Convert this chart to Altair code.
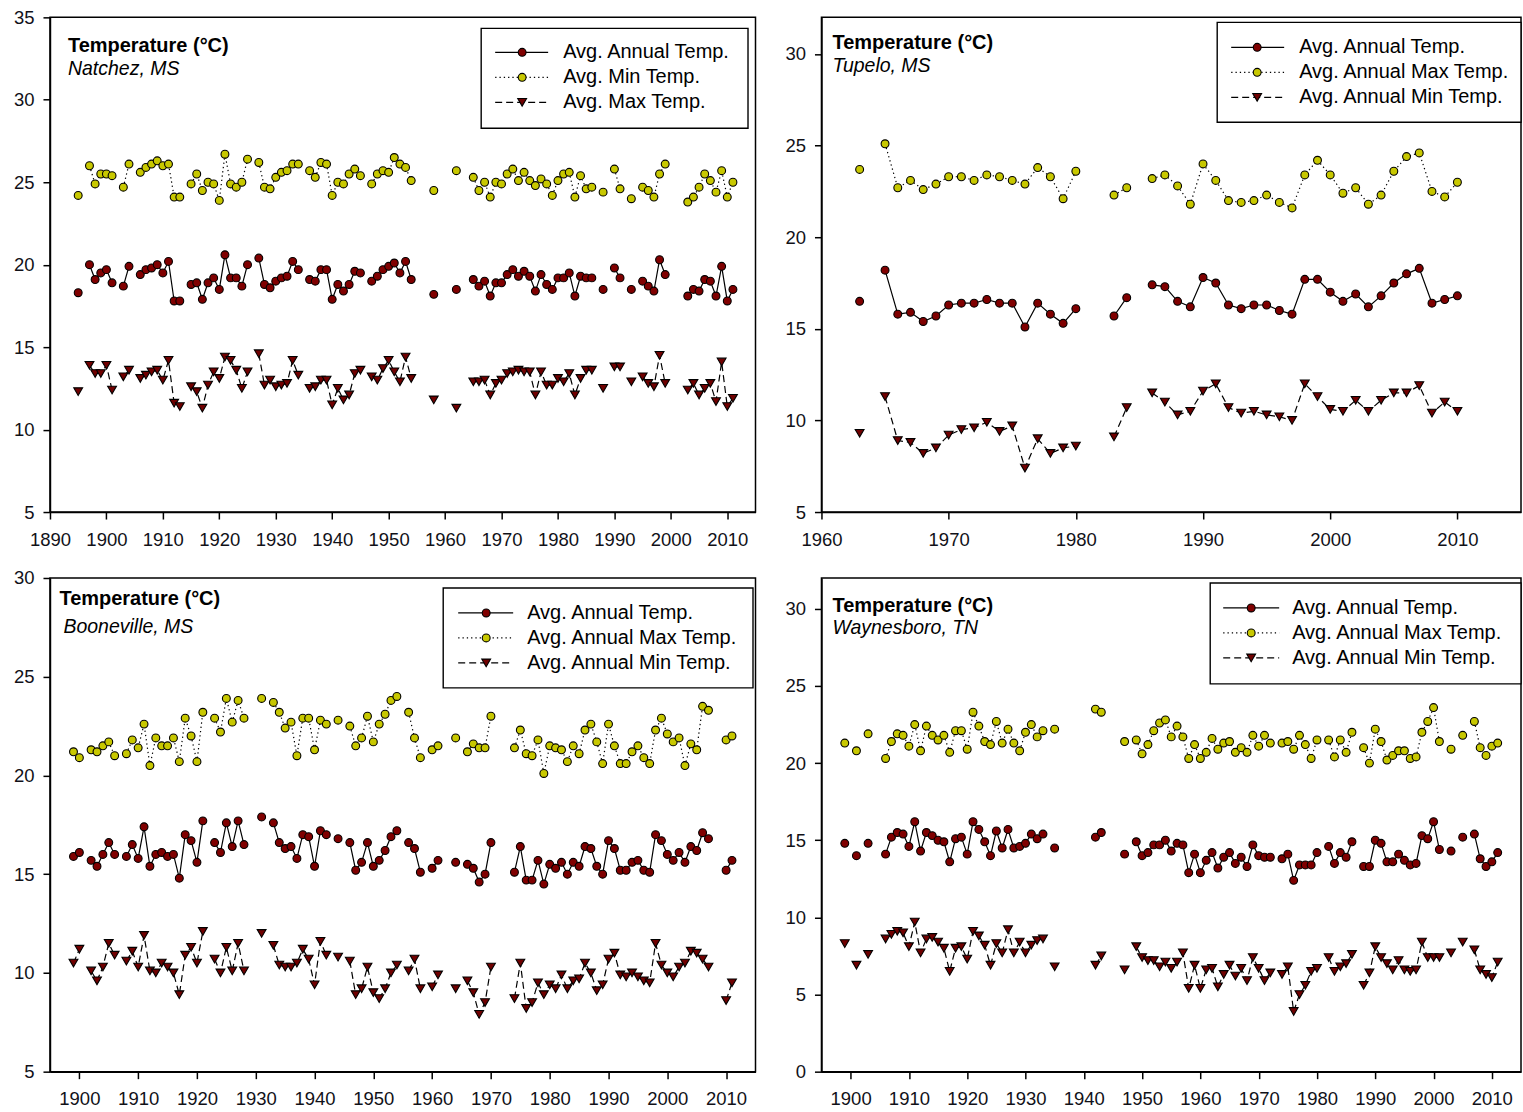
import altair as alt
import pandas as pd

# ---------------- station records, annual temperatures in degrees C ----------------
natchez_years = [1895, 1897, 1898, 1899, 1900, 1901, 1903, 1904,
                 1906, 1907, 1908, 1909, 1910, 1911, 1912, 1913,
                 1915, 1916, 1917, 1918, 1919, 1920, 1921, 1922, 1923, 1924, 1925,
                 1927, 1928, 1929, 1930, 1931, 1932, 1933, 1934,
                 1936, 1937, 1938, 1939, 1940, 1941, 1942, 1943, 1944, 1945,
                 1947, 1948, 1949, 1950, 1951, 1952, 1953, 1954,
                 1958, 1962,
                 1965, 1966, 1967, 1968, 1969, 1970, 1971, 1972, 1973, 1974, 1975,
                 1976, 1977, 1978, 1979, 1980, 1981, 1982, 1983, 1984, 1985, 1986,
                 1988, 1990, 1991, 1993,
                 1995, 1996, 1997, 1998, 1999,
                 2003, 2004, 2005, 2006, 2007, 2008, 2009, 2010, 2011]
natchez_avg = [18.3, 20.0, 19.1, 19.5, 19.7, 18.9, 18.7, 19.9,
               19.4, 19.7, 19.8, 20.0, 19.5, 20.2, 17.8, 17.8,
               18.8, 18.9, 17.9, 18.9, 19.2, 18.5, 20.6, 19.2, 19.2, 18.7, 20.0,
               20.4, 18.8, 18.6, 19.0, 19.2, 19.3, 20.2, 19.7,
               19.1, 19.0, 19.7, 19.7, 17.9, 18.8, 18.4, 18.8, 19.6, 19.5,
               19.0, 19.3, 19.7, 19.9, 20.1, 19.5, 20.2, 19.1,
               18.2, 18.5,
               19.1, 18.7, 19.0, 18.1, 18.9, 18.9, 19.4, 19.7, 19.3, 19.6, 19.3,
               18.4, 19.4, 18.8, 18.5, 19.2, 19.2, 19.5, 18.1, 19.3, 19.2, 19.2,
               18.5, 19.8, 19.2, 18.5,
               19.0, 18.7, 18.4, 20.3, 19.4,
               18.1, 18.5, 18.4, 19.1, 19.0, 18.1, 19.9, 17.8, 18.5]
natchez_max = [24.2, 26.0, 24.9, 25.5, 25.5, 25.4, 24.7, 26.1,
               25.6, 25.9, 26.1, 26.3, 26.0, 26.1, 24.1, 24.1,
               24.9, 25.5, 24.5, 25.0, 24.9, 23.9, 26.7, 24.9, 24.7, 25.0, 26.4,
               26.2, 24.7, 24.6, 25.3, 25.6, 25.7, 26.1, 26.1,
               25.7, 25.3, 26.2, 26.1, 24.2, 25.0, 24.9, 25.5, 25.8, 25.4,
               24.9, 25.5, 25.7, 25.6, 26.5, 26.1, 25.9, 25.1,
               24.5, 25.7,
               25.3, 24.5, 25.0, 24.1, 25.0, 24.9, 25.5, 25.8, 25.1, 25.6, 25.1,
               24.8, 25.2, 24.9, 24.2, 25.1, 25.5, 25.6, 24.1, 25.4, 24.6, 24.7,
               24.4, 25.8, 24.6, 24.0,
               24.7, 24.5, 24.1, 25.5, 26.1,
               23.8, 24.1, 24.7, 25.5, 25.1, 24.4, 25.7, 24.1, 25.0]
natchez_min = [12.3, 13.9, 13.4, 13.4, 13.9, 12.4, 13.2, 13.6,
               13.1, 13.3, 13.5, 13.6, 13.0, 14.2, 11.6, 11.4,
               12.6, 12.3, 11.3, 12.7, 13.5, 13.1, 14.4, 14.2, 13.6, 12.5, 13.5,
               14.6, 12.7, 13.0, 12.6, 12.7, 12.8, 14.2, 13.3,
               12.5, 12.6, 13.0, 13.0, 11.5, 12.5, 11.8, 12.1, 13.4, 13.6,
               13.2, 13.0, 13.7, 14.2, 13.5, 12.9, 14.4, 13.1,
               11.8, 11.3,
               12.9, 12.9, 13.0, 12.1, 12.8, 13.0, 13.4, 13.5, 13.6, 13.5, 13.5,
               12.1, 13.5, 12.7, 12.7, 13.1, 12.9, 13.4, 12.1, 13.1, 13.6, 13.6,
               12.5, 13.8, 13.8, 12.9,
               13.2, 12.8, 12.6, 14.5, 12.8,
               12.4, 12.8, 12.1, 12.5, 12.8, 11.7, 14.1, 11.4, 11.9]

tupelo_years = [1963,
                1965, 1966, 1967, 1968, 1969, 1970, 1971, 1972,
                1973, 1974, 1975, 1976, 1977, 1978, 1979, 1980,
                1983, 1984,
                1986, 1987, 1988, 1989, 1990, 1991, 1992, 1993, 1994, 1995, 1996, 1997,
                1998, 1999, 2000, 2001, 2002, 2003, 2004, 2005, 2006, 2007, 2008, 2009, 2010]
tupelo_avg = [16.5,
              18.2, 15.8, 15.9, 15.4, 15.7, 16.3, 16.4, 16.4,
              16.6, 16.4, 16.4, 15.1, 16.4, 15.8, 15.3, 16.1,
              15.7, 16.7,
              17.4, 17.3, 16.5, 16.2, 17.8, 17.5, 16.3, 16.1, 16.3, 16.3, 16.0, 15.8,
              17.7, 17.7, 17.0, 16.5, 16.9, 16.2, 16.8, 17.5, 18.0, 18.3, 16.4, 16.6, 16.8]
tupelo_max = [23.7,
              25.1, 22.7, 23.1, 22.6, 22.9, 23.3, 23.3, 23.1,
              23.4, 23.3, 23.1, 22.9, 23.8, 23.3, 22.1, 23.6,
              22.3, 22.7,
              23.2, 23.4, 22.8, 21.8, 24.0, 23.1, 22.0, 21.9, 22.0, 22.3, 21.9, 21.6,
              23.4, 24.2, 23.4, 22.4, 22.7, 21.8, 22.3, 23.6, 24.4, 24.6, 22.5, 22.2, 23.0]
tupelo_min = [9.3,
              11.3, 8.9, 8.8, 8.2, 8.5, 9.2, 9.5, 9.6,
              9.9, 9.4, 9.7, 7.4, 9.0, 8.2, 8.5, 8.6,
              9.1, 10.7,
              11.5, 11.0, 10.3, 10.5, 11.6, 12.0, 10.7, 10.4, 10.5, 10.3, 10.2, 10.0,
              12.0, 11.3, 10.6, 10.5, 11.1, 10.5, 11.1, 11.5, 11.5, 11.9, 10.4, 11.0, 10.5]

booneville_years = [1899, 1900, 1902, 1903, 1904, 1905, 1906,
                    1908, 1909, 1910, 1911, 1912, 1913, 1914, 1915, 1916, 1917, 1918, 1919, 1920, 1921,
                    1923, 1924, 1925, 1926, 1927, 1928,
                    1931,
                    1933, 1934, 1935, 1936, 1937, 1938, 1939, 1940, 1941, 1942,
                    1944,
                    1946, 1947, 1948, 1949, 1950, 1951, 1952, 1953, 1954,
                    1956, 1957, 1958,
                    1960, 1961,
                    1964,
                    1966, 1967, 1968, 1969, 1970,
                    1974, 1975, 1976, 1977, 1978, 1979, 1980, 1981, 1982, 1983, 1984, 1985,
                    1986, 1987, 1988, 1989, 1990, 1991, 1992, 1993, 1994, 1995, 1996, 1997,
                    1998, 1999, 2000, 2001, 2002, 2003, 2004, 2005, 2006, 2007,
                    2010, 2011]
booneville_avg = [15.9, 16.1, 15.7, 15.4, 16.0, 16.6, 16.0,
                  15.9, 16.5, 15.8, 17.4, 15.4, 16.0, 16.1, 15.9, 16.0, 14.8, 17.0, 16.7, 15.6, 17.7,
                  16.6, 16.1, 17.6, 16.4, 17.7, 16.5,
                  17.9,
                  17.6, 16.6, 16.3, 16.4, 15.8, 17.0, 16.9, 15.4, 17.2, 17.0,
                  16.8,
                  16.6, 15.2, 15.6, 16.6, 15.4, 15.7, 16.2, 16.9, 17.2,
                  16.6, 16.3, 15.1,
                  15.3, 15.7,
                  15.6,
                  15.5, 15.3, 14.6, 15.0, 16.6,
                  15.1, 16.4, 14.7, 14.7, 15.7, 14.5, 15.5, 15.3, 15.6, 15.0, 15.6, 15.4,
                  16.4, 16.3, 15.4, 15.0, 16.7, 16.3, 15.2, 15.2, 15.6, 15.7, 15.2, 15.1,
                  17.0, 16.7, 16.0, 15.7, 16.1, 15.6, 16.4, 16.2, 17.1, 16.8,
                  15.2, 15.7]
booneville_max = [21.2, 20.9, 21.3, 21.2, 21.5, 21.7, 21.0,
                  21.1, 21.8, 21.4, 22.6, 20.5, 21.9, 21.5, 21.5, 21.9, 20.7, 22.9, 22.0, 20.7, 23.2,
                  22.9, 22.2, 23.9, 22.7, 23.8, 22.9,
                  23.9,
                  23.7, 23.2, 22.4, 22.7, 21.0, 22.9, 22.9, 21.3, 22.8, 22.6,
                  22.8,
                  22.5, 21.5, 21.9, 23.0, 21.7, 22.6, 23.1, 23.8, 24.0,
                  23.2, 21.9, 20.9,
                  21.3, 21.5,
                  21.9,
                  21.2, 21.6, 21.4, 21.4, 23.0,
                  21.4, 22.3, 21.1, 21.0, 21.8, 20.1, 21.5, 21.4, 21.3, 20.7, 21.5, 21.1,
                  22.3, 22.6, 21.7, 20.6, 22.6, 21.5, 20.6, 20.6, 21.2, 21.5, 20.9, 20.6,
                  22.3, 22.9, 22.1, 21.7, 21.9, 20.5, 21.6, 21.3, 23.5, 23.3,
                  21.8, 22.0]
booneville_min = [10.5, 11.2, 10.1, 9.6, 10.3, 11.5, 10.9,
                  10.6, 11.1, 10.3, 11.9, 10.1, 10.0, 10.5, 10.3, 10.0, 8.9, 10.9, 11.3, 10.5, 12.1,
                  10.7, 10.0, 11.3, 10.1, 11.5, 10.1,
                  12.0,
                  11.4, 10.4, 10.3, 10.3, 10.5, 11.2, 10.7, 9.4, 11.6, 10.9,
                  10.8,
                  10.6, 8.9, 9.2, 10.3, 9.0, 8.7, 9.2, 10.0, 10.4,
                  10.1, 10.7, 9.2,
                  9.3, 9.9,
                  9.2,
                  9.6, 9.0, 7.9, 8.5, 10.3,
                  8.7, 10.5, 8.2, 8.5, 9.5, 8.9, 9.4, 9.2, 9.9, 9.2, 9.6, 9.7,
                  10.5, 10.0, 9.1, 9.4, 10.7, 11.0, 9.9, 9.8, 10.0, 9.8, 9.6, 9.5,
                  11.5, 10.4, 10.0, 9.8, 10.3, 10.5, 11.1, 11.0, 10.7, 10.3,
                  8.6, 9.5]

waynesboro_years = [1899, 1901, 1903,
                    1906, 1907, 1908, 1909, 1910, 1911, 1912, 1913, 1914, 1915, 1916, 1917, 1918, 1919,
                    1920, 1921, 1922, 1923, 1924, 1925, 1926, 1927, 1928, 1929, 1930, 1931, 1932, 1933,
                    1935,
                    1942, 1943,
                    1947,
                    1949, 1950, 1951, 1952, 1953, 1954, 1955, 1956, 1957, 1958, 1959, 1960,
                    1961, 1962, 1963, 1964, 1965, 1966, 1967, 1968, 1969, 1970, 1971, 1972,
                    1974, 1975, 1976, 1977, 1978, 1979, 1980,
                    1982, 1983, 1984, 1985, 1986,
                    1988, 1989, 1990, 1991, 1992, 1993, 1994, 1995, 1996, 1997, 1998, 1999, 2000, 2001,
                    2003, 2005,
                    2007, 2008, 2009, 2010, 2011]
waynesboro_avg = [14.8, 14.0, 14.8,
                  14.1, 15.2, 15.5, 15.4, 14.6, 16.2, 14.3, 15.5, 15.3, 15.0, 14.9, 13.6, 15.1, 15.2,
                  14.1, 16.2, 15.7, 14.9, 14.0, 15.6, 14.5, 15.7, 14.5, 14.6, 14.8, 15.4, 15.1, 15.4,
                  14.5,
                  15.2, 15.5,
                  14.1,
                  14.9, 14.0, 14.2, 14.7, 14.7, 15.0, 14.3, 14.8, 14.7, 12.9, 14.1, 12.9,
                  13.7, 14.2, 13.2, 13.9, 14.2, 13.5, 13.9, 13.3, 14.7, 14.0, 13.9, 13.9,
                  13.8, 14.1, 12.4, 13.4, 13.4, 13.4, 14.2,
                  14.6, 13.5, 14.2, 13.9, 14.9,
                  13.3, 13.3, 15.0, 14.8, 13.6, 13.6, 14.1, 13.7, 13.4, 13.5, 15.3, 15.1, 16.2, 14.4,
                  14.3, 15.2,
                  15.4, 13.8, 13.3, 13.6, 14.2]
waynesboro_max = [21.3, 20.8, 21.9,
                  20.3, 21.4, 21.9, 21.8, 21.1, 22.5, 20.8, 22.4, 21.8, 21.5, 21.8, 20.7, 22.1, 22.1,
                  20.9, 23.3, 22.4, 21.4, 21.2, 22.7, 21.3, 22.2, 21.3, 20.8, 22.0, 22.5, 21.7, 22.1,
                  22.2,
                  23.5, 23.3,
                  21.4,
                  21.5, 20.6, 21.2, 22.1, 22.6, 22.8, 21.7, 22.4, 21.7, 20.3, 21.2, 20.3,
                  20.7, 21.6, 20.9, 21.3, 21.4, 20.7, 21.0, 20.7, 21.8, 21.1, 21.8, 21.3,
                  21.3, 21.4, 20.9, 21.8, 21.2, 20.3, 21.5,
                  21.5, 20.4, 21.5, 20.7, 22.0,
                  21.0, 20.0, 22.2, 21.4, 20.2, 20.5, 20.8, 20.8, 20.3, 20.4, 22.0, 22.7, 23.6, 21.4,
                  20.9, 21.8,
                  22.7, 21.0, 20.5, 21.1, 21.3]
waynesboro_min = [8.3, 6.9, 7.6,
                  8.6, 8.9, 9.1, 9.0, 8.1, 9.7, 7.7, 8.6, 8.7, 8.4, 8.0, 6.5, 8.0, 8.1,
                  7.3, 9.1, 8.8, 8.2, 6.9, 8.3, 7.7, 9.2, 7.7, 8.4, 7.7, 8.2, 8.5, 8.6,
                  6.8,
                  6.9, 7.5,
                  6.6,
                  8.1, 7.4, 7.2, 7.2, 6.8, 7.1, 6.7, 7.1, 7.7, 5.4, 6.9, 5.4,
                  6.6, 6.7, 5.5, 6.3, 6.9, 6.2, 6.7, 5.9, 7.4, 6.7, 5.9, 6.4,
                  6.3, 6.8, 3.9, 5.0, 5.6, 6.5, 6.7,
                  7.4, 6.5, 6.8, 7.0, 7.6,
                  5.6, 6.4, 8.1, 7.4, 7.0, 6.6, 7.2, 6.6, 6.5, 6.6, 8.4, 7.4, 7.4, 7.4,
                  7.7, 8.4,
                  7.9, 6.6, 6.3, 6.1, 7.1]

LABELS_STD = ["Avg. Annual Temp.", "Avg. Annual Max Temp.", "Avg. Annual Min Temp."]
LABELS_NATCHEZ = ["Avg. Annual Temp.", "Avg. Min Temp.", "Avg. Max Temp."]

FONT = "Liberation Sans"
RED = "#800000"
YELLOW = "#c8c800"
TRI = "#700000"
SERIES_STYLE = {
    # series: (dash pattern, shape, fill, size)
    "avg": (None, "circle", RED, 62),
    "max": ([1.3, 3], "circle", YELLOW, 62),
    "min": ([7, 4], "triangle-down", TRI, 78),
}


def long_frame(years, avg, mx, mn):
    """Stack the three series; a gap in the years starts a new line segment."""
    for vals in (avg, mx, mn):
        assert len(vals) == len(years)
    rows = []
    for series, vals in (("avg", avg), ("max", mx), ("min", mn)):
        seg, prev = 0, None
        for yr, v in zip(years, vals):
            if prev is not None and yr - prev > 1:
                seg += 1
            rows.append({"year": yr, "temp": v, "series": series, "seg": seg})
            prev = yr
    return pd.DataFrame(rows)


def one_row():
    return alt.Chart(pd.DataFrame({"k": [0]}))


def panel(years, avg, mx, mn, station, labels, xdom, xticks, ydom, yticks, w, h, lay):
    df = long_frame(years, avg, mx, mn)
    x = alt.X("year:Q", scale=alt.Scale(domain=xdom, nice=False, zero=False),
              axis=alt.Axis(values=xticks, format="d", title=None))
    y = alt.Y("temp:Q", scale=alt.Scale(domain=ydom, nice=False, zero=False),
              axis=alt.Axis(values=yticks, format="d", title=None))
    base = alt.Chart(df)
    layers = []
    for s in ("avg", "max", "min"):
        dash = SERIES_STYLE[s][0]
        kw = dict(color="black", strokeWidth=1.2)
        if dash:
            kw["strokeDash"] = dash
        layers.append(base.transform_filter(alt.datum.series == s)
                      .mark_line(**kw)
                      .encode(x=x, y=y, detail="seg:N", order="year:Q"))
    for s in ("max", "avg", "min"):
        _, shape, fill, size = SERIES_STYLE[s]
        layers.append(base.transform_filter(alt.datum.series == s)
                      .mark_point(shape=shape, filled=True, fill=fill, stroke="black",
                                  strokeWidth=1.1, size=size, opacity=1)
                      .encode(x=x, y=y))

    # heading inside the plot
    layers.append(one_row().mark_text(align="left", baseline="middle", font=FONT, fontSize=20,
                                      fontWeight="bold", color="black")
                  .encode(x=alt.value(lay["tx"]), y=alt.value(lay["ty"]),
                          text=alt.value("Temperature (°C)")))
    layers.append(one_row().mark_text(align="left", baseline="middle", font=FONT, fontSize=19.5,
                                      fontStyle="italic", color="black")
                  .encode(x=alt.value(lay["sx"]), y=alt.value(lay["sy"]),
                          text=alt.value(station)))

    # legend box
    bx1, by1, bx2, by2 = lay["box"]
    layers.append(one_row().mark_rect(fill="white", stroke="black", strokeWidth=1.4)
                  .encode(x=alt.value(bx1), x2=alt.value(bx2), y=alt.value(by1), y2=alt.value(by2)))
    la, lb = lay["line"]
    for s, row, label in zip(("avg", "max", "min"), lay["rows"], labels):
        dash, shape, fill, size = SERIES_STYLE[s]
        kw = dict(color="black", strokeWidth=1.3)
        if dash:
            kw["strokeDash"] = dash
        layers.append(one_row().mark_rule(**kw)
                      .encode(x=alt.value(la), x2=alt.value(lb), y=alt.value(row)))
        layers.append(one_row().mark_point(shape=shape, filled=True, fill=fill, stroke="black",
                                           strokeWidth=1.1, size=size, opacity=1)
                      .encode(x=alt.value(lay["mx"]), y=alt.value(row)))
        layers.append(one_row().mark_text(align="left", baseline="middle", font=FONT, fontSize=20,
                                          color="black")
                      .encode(x=alt.value(lay["lx"]), y=alt.value(row), text=alt.value(label)))

    return alt.layer(*layers).properties(width=w, height=h)


p1 = panel(natchez_years, natchez_avg, natchez_max, natchez_min, "Natchez, MS", LABELS_NATCHEZ,
           [1890, 2015], list(range(1890, 2011, 10)), [5, 35], list(range(5, 36, 5)), 706, 495,
           dict(tx=18, ty=29, sx=18, sy=52, box=(431.5, 11, 698.5, 111),
                rows=(35, 60, 85), line=(445.5, 498.5), mx=472.5, lx=513.5))
p2 = panel(tupelo_years, tupelo_avg, tupelo_max, tupelo_min, "Tupelo, MS", LABELS_STD,
           [1960, 2015], list(range(1960, 2011, 10)), [5, 32], list(range(5, 31, 5)), 700, 495,
           dict(tx=11, ty=26, sx=11, sy=49, box=(396, 5, 700, 105),
                rows=(30, 55, 80), line=(410, 463), mx=436, lx=478))
p3 = panel(booneville_years, booneville_avg, booneville_max, booneville_min, "Booneville, MS", LABELS_STD,
           [1895, 2015], list(range(1900, 2011, 10)), [5, 30], list(range(5, 31, 5)), 706, 494,
           dict(tx=9.5, ty=21, sx=13.5, sy=49, box=(393.5, 10, 703.5, 110),
                rows=(35, 60, 85), line=(408.5, 463.5), mx=436.5, lx=477.5))
p4 = panel(waynesboro_years, waynesboro_avg, waynesboro_max, waynesboro_min, "Waynesboro, TN", LABELS_STD,
           [1895, 2015], list(range(1900, 2011, 10)), [0, 32], list(range(0, 31, 5)), 700, 494,
           dict(tx=11, ty=28, sx=11, sy=50, box=(389, 5, 700, 106),
                rows=(30, 55, 80), line=(402, 458), mx=430, lx=471))

chart = (
    alt.concat(p1, p2, p3, p4, columns=2, spacing=66, bounds="flush")
    .properties(padding={"left": 12, "top": 7, "right": 0, "bottom": 4})
    .configure_view(stroke="black", strokeWidth=1.5)
    .configure_axis(domainColor="black", domainWidth=1.5, tickColor="black", tickWidth=1.5,
                    tickSize=7, labelFont=FONT, labelFontSize=18.5, labelColor="#111118",
                    labelPadding=9, grid=False, labelFlush=False, labelOverlap=False)
    .configure_axisX(labelPadding=11)
)

chart.save("out.html", embed_options={"renderer": "svg", "actions": False})
